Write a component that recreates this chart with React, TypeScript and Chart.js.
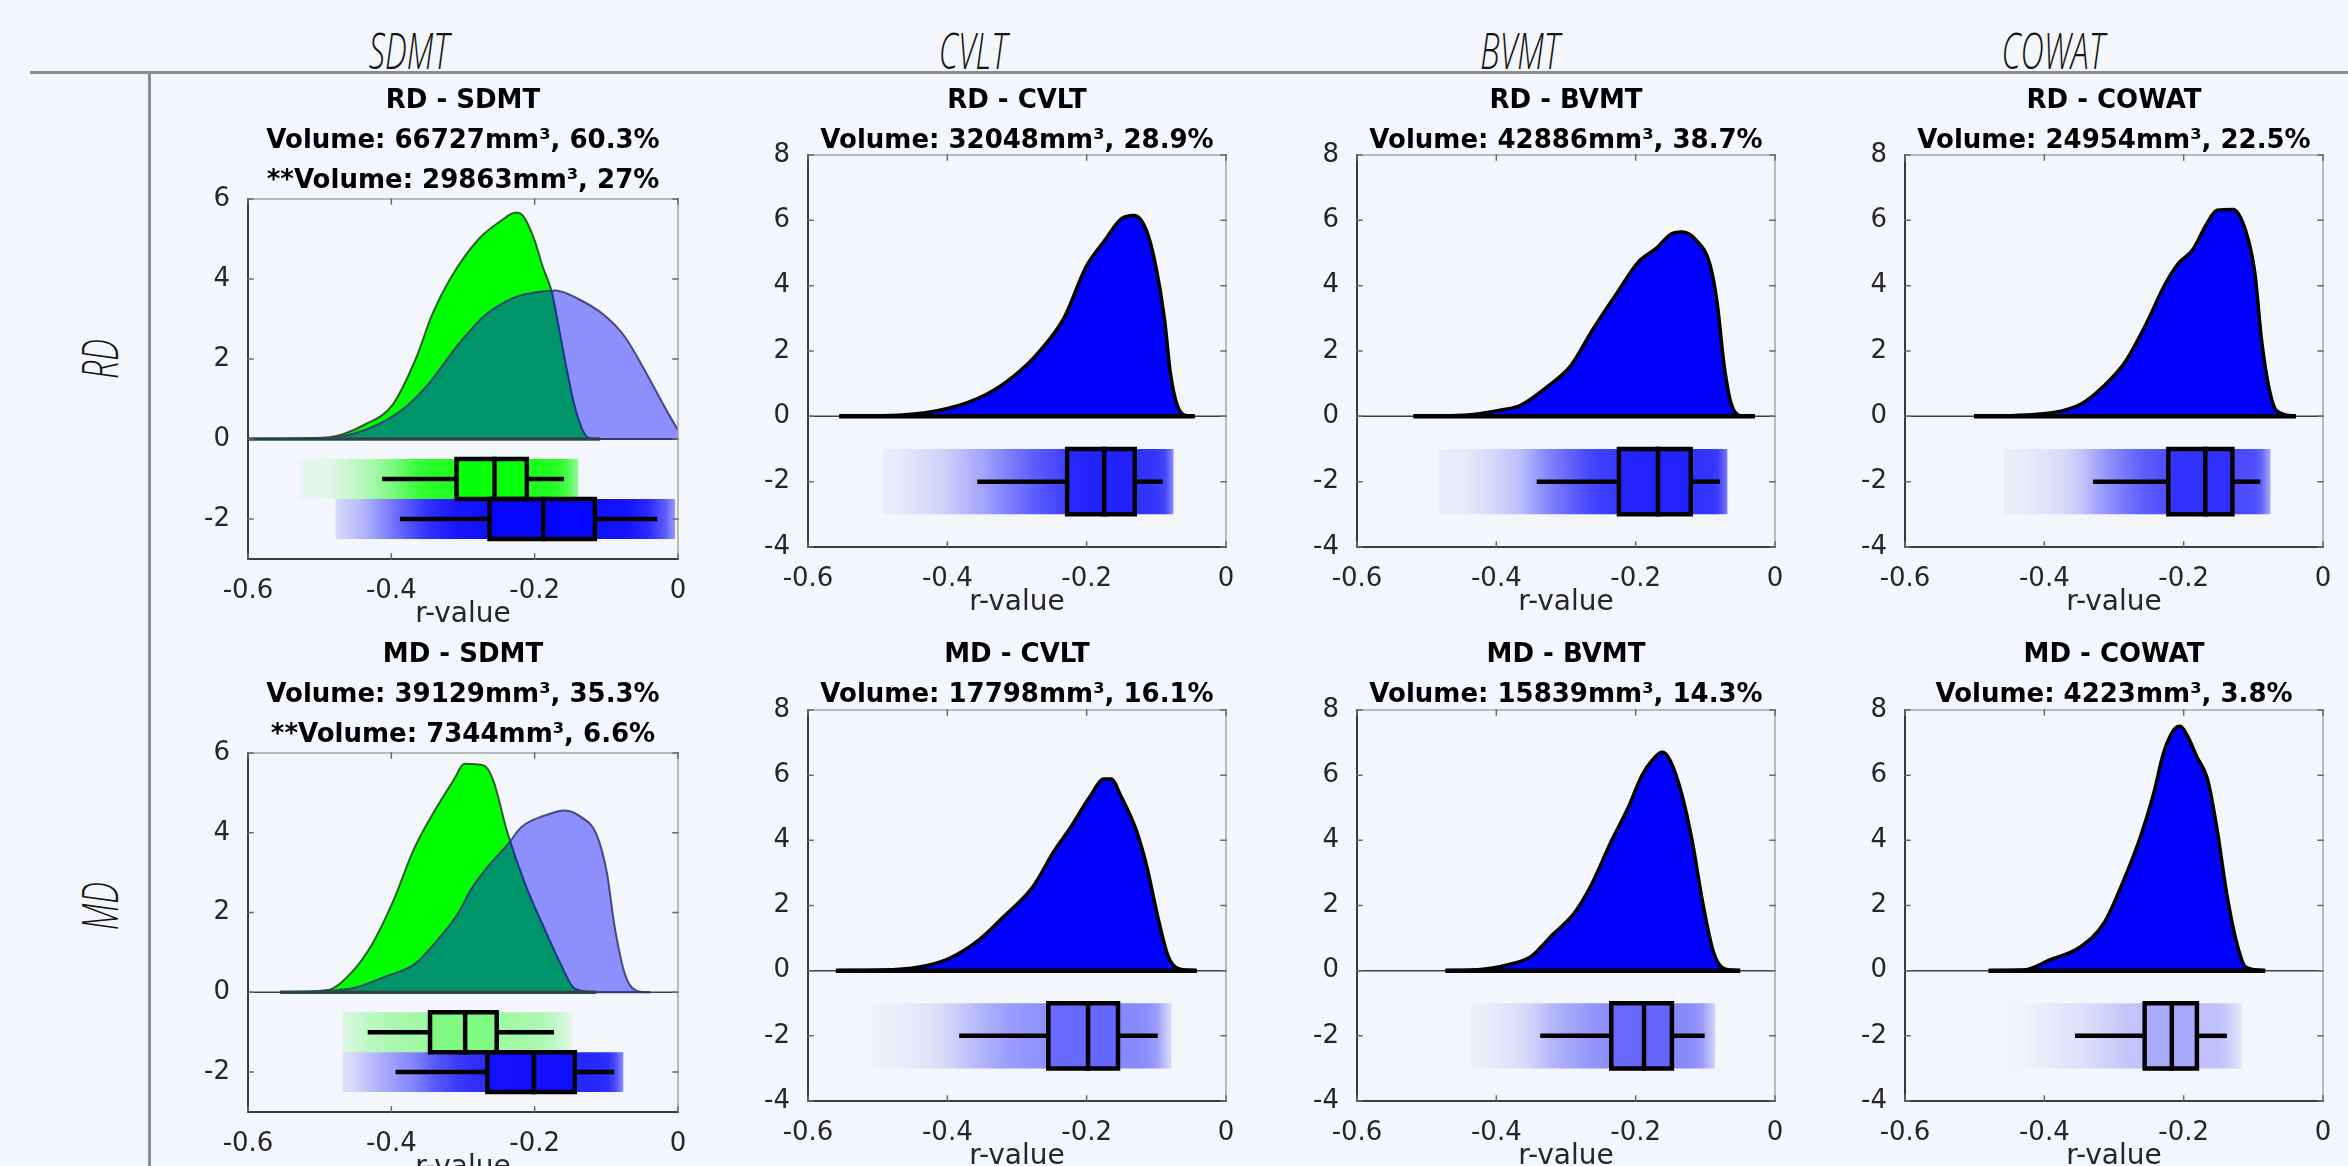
import React, { useEffect, useRef } from 'react';
import { Chart, registerables } from 'chart.js';

Chart.register(...registerables);

// ------------------------------------------------------------------ data
const columnHeaders = ['SDMT', 'CVLT', 'BVMT', 'COWAT'];
const rowHeaders = ['RD', 'MD'];

const xTickValues = [-0.6, -0.4, -0.2, 0];
const xTickLabels = ['-0.6', '-0.4', '-0.2', '0'];
const yTicksSdmt = [-2, 0, 2, 4, 6];
const yLabelsSdmt = ['-2', '0', '2', '4', '6'];
const yTicksOther = [-4, -2, 0, 2, 4, 6, 8];
const yLabelsOther = ['-4', '-2', '0', '2', '4', '6', '8'];
const xAxisTitle = 'r-value';

const rdSdmtTitle = ['RD - SDMT', 'Volume: 66727mm³, 60.3%', '**Volume: 29863mm³, 27%'];
const rdCvltTitle = ['RD - CVLT', 'Volume: 32048mm³, 28.9%'];
const rdBvmtTitle = ['RD - BVMT', 'Volume: 42886mm³, 38.7%'];
const rdCowatTitle = ['RD - COWAT', 'Volume: 24954mm³, 22.5%'];
const mdSdmtTitle = ['MD - SDMT', 'Volume: 39129mm³, 35.3%', '**Volume: 7344mm³, 6.6%'];
const mdCvltTitle = ['MD - CVLT', 'Volume: 17798mm³, 16.1%'];
const mdBvmtTitle = ['MD - BVMT', 'Volume: 15839mm³, 14.3%'];
const mdCowatTitle = ['MD - COWAT', 'Volume: 4223mm³, 3.8%'];

// density curves (r-value, density)
const rdSdmtGreenX = [-0.6, -0.488, -0.438, -0.398, -0.366, -0.343, -0.318, -0.278, -0.248, -0.226, -0.216, -0.201, -0.189, -0.176, -0.166, -0.156, -0.146, -0.136, -0.126, -0.109];
const rdSdmtGreenY = [0, 0.04, 0.35, 0.86, 2.0, 3.11, 4.0, 5.0, 5.44, 5.66, 5.57, 5.01, 4.32, 3.67, 2.76, 1.81, 0.95, 0.35, 0.04, 0];
const rdSdmtBlueX = [-0.6, -0.488, -0.438, -0.388, -0.348, -0.308, -0.268, -0.228, -0.198, -0.171, -0.139, -0.104, -0.074, -0.044, -0.018, 0];
const rdSdmtBlueY = [0, 0.03, 0.22, 0.69, 1.38, 2.33, 3.11, 3.54, 3.67, 3.71, 3.5, 3.11, 2.55, 1.64, 0.78, 0.22];

const mdSdmtGreenX = [-0.555, -0.488, -0.458, -0.428, -0.398, -0.368, -0.338, -0.313, -0.298, -0.271, -0.258, -0.238, -0.213, -0.189, -0.164, -0.144, -0.114];
const mdSdmtGreenY = [0, 0.06, 0.45, 1.17, 2.26, 3.61, 4.6, 5.32, 5.73, 5.69, 5.32, 4.0, 2.7, 1.7, 0.72, 0.09, 0];
const mdSdmtBlueX = [-0.555, -0.458, -0.408, -0.368, -0.338, -0.308, -0.288, -0.263, -0.238, -0.218, -0.188, -0.158, -0.134, -0.114, -0.099, -0.089, -0.074, -0.059, -0.039];
const mdSdmtBlueY = [0, 0.09, 0.4, 0.7, 1.26, 1.95, 2.6, 3.2, 3.7, 4.15, 4.42, 4.56, 4.38, 3.97, 2.98, 1.71, 0.45, 0.05, 0];

const rdCvltX = [-0.555, -0.47, -0.401, -0.345, -0.304, -0.268, -0.232, -0.201, -0.175, -0.15, -0.132, -0.114, -0.101, -0.088, -0.08, -0.07, -0.057, -0.045];
const rdCvltY = [0, 0.03, 0.23, 0.66, 1.24, 1.98, 3.03, 4.57, 5.36, 6.05, 6.15, 5.68, 4.62, 2.93, 1.34, 0.34, 0.02, 0];
const rdBvmtX = [-0.519, -0.447, -0.396, -0.365, -0.329, -0.293, -0.263, -0.227, -0.196, -0.17, -0.15, -0.134, -0.114, -0.093, -0.083, -0.073, -0.063, -0.05, -0.029];
const rdBvmtY = [0, 0.03, 0.18, 0.34, 0.87, 1.55, 2.61, 3.77, 4.73, 5.15, 5.57, 5.64, 5.41, 4.62, 3.46, 1.55, 0.39, 0.02, 0];
const rdCowatX = [-0.501, -0.427, -0.376, -0.346, -0.315, -0.284, -0.254, -0.228, -0.208, -0.187, -0.167, -0.152, -0.129, -0.111, -0.098, -0.088, -0.077, -0.067, -0.039];
const rdCowatY = [0, 0.04, 0.16, 0.39, 0.92, 1.66, 2.82, 3.99, 4.67, 5.1, 5.89, 6.31, 6.33, 5.68, 4.41, 2.29, 0.81, 0.18, 0];
const mdCvltX = [-0.56, -0.478, -0.427, -0.396, -0.355, -0.319, -0.278, -0.247, -0.222, -0.196, -0.175, -0.165, -0.15, -0.129, -0.114, -0.098, -0.083, -0.068, -0.042];
const mdCvltY = [0, 0.03, 0.17, 0.39, 0.94, 1.66, 2.55, 3.66, 4.43, 5.32, 5.88, 5.88, 5.32, 4.32, 3.22, 1.66, 0.44, 0.06, 0];
const mdBvmtX = [-0.473, -0.427, -0.386, -0.35, -0.319, -0.288, -0.263, -0.237, -0.211, -0.191, -0.175, -0.162, -0.15, -0.134, -0.119, -0.104, -0.088, -0.073, -0.05];
const mdBvmtY = [0, 0.03, 0.17, 0.44, 1.11, 1.77, 2.66, 3.88, 4.99, 5.99, 6.49, 6.71, 6.43, 5.43, 3.99, 2.11, 0.55, 0.06, 0];
const mdCowatX = [-0.48, -0.43, -0.392, -0.349, -0.315, -0.286, -0.262, -0.243, -0.229, -0.214, -0.205, -0.195, -0.181, -0.166, -0.152, -0.138, -0.123, -0.111, -0.083];
const mdCowatY = [0, 0.02, 0.33, 0.72, 1.44, 2.78, 4.11, 5.44, 6.67, 7.39, 7.5, 7.22, 6.56, 5.89, 4.33, 2.33, 0.78, 0.11, 0];

// box plots: [low whisker, Q1, median, Q3, high whisker]
const rdSdmtGreenBox = [-0.413, -0.309, -0.256, -0.211, -0.159];
const rdSdmtBlueBox = [-0.388, -0.263, -0.188, -0.116, -0.029];
const mdSdmtGreenBox = [-0.433, -0.346, -0.297, -0.253, -0.173];
const mdSdmtBlueBox = [-0.394, -0.266, -0.201, -0.144, -0.089];
const rdCvltBox = [-0.357, -0.228, -0.175, -0.131, -0.091];
const rdBvmtBox = [-0.342, -0.224, -0.168, -0.121, -0.079];
const rdCowatBox = [-0.33, -0.222, -0.169, -0.13, -0.09];
const mdCvltBox = [-0.383, -0.255, -0.198, -0.155, -0.098];
const mdBvmtBox = [-0.337, -0.235, -0.188, -0.148, -0.101];
const mdCowatBox = [-0.356, -0.256, -0.217, -0.181, -0.138];

// extent of the jittered raw-data clouds [min, max]
const rdSdmtGreenCloud = [-0.528, -0.139];
const rdSdmtBlueCloud = [-0.478, -0.004];
const mdSdmtGreenCloud = [-0.468, -0.148];
const mdSdmtBlueCloud = [-0.468, -0.076];
const rdCvltCloud = [-0.493, -0.075];
const rdBvmtCloud = [-0.483, -0.068];
const rdCowatCloud = [-0.458, -0.075];
const mdCvltCloud = [-0.509, -0.078];
const mdBvmtCloud = [-0.437, -0.086];
const mdCowatCloud = [-0.449, -0.116];

// ------------------------------------------------------------------ layout & style
const FONT = "'DejaVu Sans', 'Liberation Sans', sans-serif";
const W = 2348;
const H = 1166;
const BG = '#F3F6FA';
const COL_X = [[248, 678], [808, 1226], [1357, 1775], [1905, 2323]];
const ROW_Y_SDMT = [[199, 559], [753, 1112]];
const ROW_Y_OTHER = [[155, 547], [710, 1101]];
const TITLE_LINE1 = [101, 655];
const TITLE_LH = 40;
const Y_AXIS_W = 80;
const TICK_FONT = 26;
const LABEL_FONT = 28;
const X_AXIS_H = 73;
const PAD_R = 30;
const HEADER_X = [409, 973, 1520, 2053];
const HEADER_Y = 50;
const HEADER_SCALE = 0.66;
const ROW_LABEL_X = 99;
const ROW_LABEL_Y = [359, 906];

const RGB_BLUE = '0,0,255';
const RGB_GREEN = '0,255,0';

interface Series { xs: number[]; ys: number[]; fill: string; line: string; lineWidth: number; baseWidth: number; }
interface BoxSpec { stats: number[]; center: number; half: number; rgb: string; boxAlpha: number; cloud: number[]; cloudAlpha: number; dx: number[]; dy: number[]; }
interface PanelSpec { title: string[]; col: number; row: number; sdmt: boolean; series: Series[]; boxes: BoxSpec[]; }

const single = (xs: number[], ys: number[]): Series => ({ xs, ys, fill: '#0000ff', line: '#000000', lineWidth: 3.5, baseWidth: 4.5 });
const greenSeries = (xs: number[], ys: number[]): Series => ({ xs, ys, fill: '#00ff00', line: '#2a5f2a', lineWidth: 2, baseWidth: 3.5 });
const blueSeries = (xs: number[], ys: number[]): Series => ({ xs, ys, fill: 'rgba(0,0,255,0.42)', line: 'rgba(50,50,110,0.85)', lineWidth: 2, baseWidth: 2 });
const singleBox = (stats: number[], cloud: number[], dx: number[], dy: number[], cloudAlpha: number, boxAlpha: number): BoxSpec => ({ stats, center: -2, half: 1, rgb: RGB_BLUE, boxAlpha, cloud, cloudAlpha, dx, dy });

const panels: PanelSpec[] = [
  {
    title: rdSdmtTitle, col: 0, row: 0, sdmt: true,
    series: [greenSeries(rdSdmtGreenX, rdSdmtGreenY), blueSeries(rdSdmtBlueX, rdSdmtBlueY)],
    boxes: [
      { stats: rdSdmtGreenBox, center: -1, half: 0.5, rgb: RGB_GREEN, boxAlpha: 0.75, cloud: rdSdmtGreenCloud, cloudAlpha: 0.9, dx: rdSdmtGreenX, dy: rdSdmtGreenY },
      { stats: rdSdmtBlueBox, center: -2, half: 0.5, rgb: RGB_BLUE, boxAlpha: 0.75, cloud: rdSdmtBlueCloud, cloudAlpha: 0.95, dx: rdSdmtBlueX, dy: rdSdmtBlueY },
    ],
  },
  { title: rdCvltTitle, col: 1, row: 0, sdmt: false, series: [single(rdCvltX, rdCvltY)], boxes: [singleBox(rdCvltBox, rdCvltCloud, rdCvltX, rdCvltY, 0.8, 0.35)] },
  { title: rdBvmtTitle, col: 2, row: 0, sdmt: false, series: [single(rdBvmtX, rdBvmtY)], boxes: [singleBox(rdBvmtBox, rdBvmtCloud, rdBvmtX, rdBvmtY, 0.8, 0.35)] },
  { title: rdCowatTitle, col: 3, row: 0, sdmt: false, series: [single(rdCowatX, rdCowatY)], boxes: [singleBox(rdCowatBox, rdCowatCloud, rdCowatX, rdCowatY, 0.7, 0.35)] },
  {
    title: mdSdmtTitle, col: 0, row: 1, sdmt: true,
    series: [greenSeries(mdSdmtGreenX, mdSdmtGreenY), blueSeries(mdSdmtBlueX, mdSdmtBlueY)],
    boxes: [
      { stats: mdSdmtGreenBox, center: -1, half: 0.5, rgb: RGB_GREEN, boxAlpha: 0.2, cloud: mdSdmtGreenCloud, cloudAlpha: 0.35, dx: mdSdmtGreenX, dy: mdSdmtGreenY },
      { stats: mdSdmtBlueBox, center: -2, half: 0.5, rgb: RGB_BLUE, boxAlpha: 0.6, cloud: mdSdmtBlueCloud, cloudAlpha: 0.85, dx: mdSdmtBlueX, dy: mdSdmtBlueY },
    ],
  },
  { title: mdCvltTitle, col: 1, row: 1, sdmt: false, series: [single(mdCvltX, mdCvltY)], boxes: [singleBox(mdCvltBox, mdCvltCloud, mdCvltX, mdCvltY, 0.45, 0.25)] },
  { title: mdBvmtTitle, col: 2, row: 1, sdmt: false, series: [single(mdBvmtX, mdBvmtY)], boxes: [singleBox(mdBvmtBox, mdBvmtCloud, mdBvmtX, mdBvmtY, 0.45, 0.25)] },
  { title: mdCowatTitle, col: 3, row: 1, sdmt: false, series: [single(mdCowatX, mdCowatY)], boxes: [singleBox(mdCowatBox, mdCowatCloud, mdCowatX, mdCowatY, 0.22, 0.12)] },
];

// ------------------------------------------------------------------ helpers
function lerpDensity(xs: number[], ys: number[], x: number): number {
  if (x <= xs[0]) return ys[0];
  for (let i = 1; i < xs.length; i++) {
    if (x <= xs[i]) {
      const t = (x - xs[i - 1]) / (xs[i] - xs[i - 1]);
      return ys[i - 1] + t * (ys[i] - ys[i - 1]);
    }
  }
  return ys[ys.length - 1];
}

function cloudGradient(chart: any, b: BoxSpec): any {
  const sx = chart.scales && chart.scales.x;
  if (!chart.chartArea || !sx) return `rgba(${b.rgb},${b.cloudAlpha * 0.5})`;
  const [c0, c1] = b.cloud;
  const p0 = sx.getPixelForValue(c0);
  const p1 = sx.getPixelForValue(c1);
  const g = chart.ctx.createLinearGradient(p0, 0, p1, 0);
  const dmax = Math.max(...b.dy);
  const stops = [c0, ...b.dx.filter((x) => x > c0 && x < c1), c1];
  stops.forEach((x) => {
    const d = Math.max(0, lerpDensity(b.dx, b.dy, x));
    const a = b.cloudAlpha * (0.03 + 0.97 * (1 - Math.exp((-5 * d) / dmax)));
    g.addColorStop(Math.min(1, Math.max(0, (x - c0) / (c1 - c0))), `rgba(${b.rgb},${a.toFixed(3)})`);
  });
  return g;
}

const labelFor = (values: number[], labels: string[], v: number) => {
  const i = values.findIndex((t) => Math.abs(t - v) < 1e-9);
  return i >= 0 ? labels[i] : '';
};

const framePlugin = {
  id: 'matlabFrame',
  afterDatasetsDraw(chart: any) {
    const { ctx, chartArea } = chart;
    const { left, right, top, bottom } = chartArea;
    const sx = chart.scales.x;
    const sy = chart.scales.y;
    ctx.save();
    ctx.lineCap = 'square';
    ctx.strokeStyle = '#a6a6a6';
    ctx.lineWidth = 1.5;
    ctx.beginPath();
    ctx.moveTo(left, top);
    ctx.lineTo(right, top);
    ctx.lineTo(right, bottom);
    ctx.stroke();
    ctx.strokeStyle = '#3a3a3a';
    ctx.lineWidth = 2;
    ctx.beginPath();
    ctx.moveTo(left, top);
    ctx.lineTo(left, bottom);
    ctx.lineTo(right, bottom);
    ctx.stroke();
    ctx.strokeStyle = '#6a6a6a';
    ctx.lineWidth = 1.5;
    const tl = 5;
    sx.ticks.forEach((t: any) => {
      const px = sx.getPixelForValue(t.value);
      ctx.beginPath();
      ctx.moveTo(px, bottom);
      ctx.lineTo(px, bottom - tl);
      ctx.moveTo(px, top);
      ctx.lineTo(px, top + tl);
      ctx.stroke();
    });
    sy.ticks.forEach((t: any) => {
      const py = sy.getPixelForValue(t.value);
      ctx.beginPath();
      ctx.moveTo(left, py);
      ctx.lineTo(left + tl, py);
      ctx.moveTo(right, py);
      ctx.lineTo(right - tl, py);
      ctx.stroke();
    });
    ctx.restore();
  },
};

function geometry(spec: PanelSpec) {
  const [axL, axR] = COL_X[spec.col];
  const [axT, axB] = spec.sdmt ? ROW_Y_SDMT[spec.row] : ROW_Y_OTHER[spec.row];
  const line1 = TITLE_LINE1[spec.row];
  const top = line1 - TITLE_LH / 2;
  const left = axL - Y_AXIS_W;
  const width = Y_AXIS_W + (axR - axL) + PAD_R;
  const height = axB + X_AXIS_H - top;
  const padBottom = axT - top - spec.title.length * TITLE_LH;
  return { left, top, width, height, padBottom };
}

function buildConfig(spec: PanelSpec, padBottom: number): any {
  const datasets: any[] = [];
  const pts = (xs: number[], ys: number[]) => xs.map((x, i) => ({ x, y: ys[i] }));
  const clear = 'rgba(0,0,0,0)';

  datasets.push({
    data: [{ x: xTickValues[0], y: 0 }, { x: xTickValues[xTickValues.length - 1], y: 0 }],
    borderColor: '#404040', borderWidth: 1.5, pointRadius: 0, fill: false, order: 70,
  });

  spec.series.forEach((s, i) => {
    datasets.push({
      data: pts(s.xs, s.ys), borderColor: s.line, borderWidth: s.lineWidth, backgroundColor: s.fill,
      fill: 'origin', pointRadius: 0, cubicInterpolationMode: 'monotone', order: 60 - i * 5,
    });
    datasets.push({
      data: [{ x: s.xs[0], y: 0 }, { x: s.xs[s.xs.length - 1], y: 0 }],
      borderColor: s.line, borderWidth: s.baseWidth, pointRadius: 0, fill: false, order: 40 - i,
    });
  });

  spec.boxes.forEach((b, i) => {
    const lo = b.center - b.half;
    const hi = b.center + b.half;
    const [w0, q1, med, q3, w1] = b.stats;
    datasets.push({
      data: [{ x: b.cloud[0], y: lo }, { x: b.cloud[1], y: lo }],
      borderColor: clear, borderWidth: 0, pointRadius: 0, fill: { value: hi },
      backgroundColor: (ctx: any) => cloudGradient(ctx.chart, b), order: 110 - i,
    });
    datasets.push({
      data: [{ x: q1, y: lo }, { x: q3, y: lo }],
      borderColor: clear, borderWidth: 0, pointRadius: 0, fill: { value: hi },
      backgroundColor: `rgba(${b.rgb},${b.boxAlpha})`, order: 95 - i,
    });
    const k = { borderColor: '#000000', borderWidth: 4.5, pointRadius: 0, fill: false, order: 85 - i, borderJoinStyle: 'miter', borderCapStyle: 'square' };
    datasets.push({ ...k, data: [{ x: q1, y: hi }, { x: q3, y: hi }, { x: q3, y: lo }, { x: q1, y: lo }, { x: q1, y: hi }] });
    datasets.push({ ...k, data: [{ x: med, y: hi }, { x: med, y: lo }] });
    datasets.push({ ...k, borderCapStyle: 'butt', data: [{ x: w0, y: b.center }, { x: q1, y: b.center }] });
    datasets.push({ ...k, borderCapStyle: 'butt', data: [{ x: q3, y: b.center }, { x: w1, y: b.center }] });
  });

  const yTicks = spec.sdmt ? yTicksSdmt : yTicksOther;
  const yLabels = spec.sdmt ? yLabelsSdmt : yLabelsOther;

  return {
    type: 'line',
    data: { datasets },
    options: {
      animation: false,
      responsive: false,
      maintainAspectRatio: false,
      events: [],
      layout: { padding: { top: 0, right: PAD_R, bottom: 0, left: 0 } },
      plugins: {
        legend: { display: false },
        tooltip: { enabled: false },
        title: {
          display: true, text: spec.title, color: '#000000', fullSize: false, align: 'center', position: 'top',
          font: { family: FONT, size: 26, weight: 'bold', lineHeight: TITLE_LH / 26 },
          padding: { top: 0, bottom: padBottom },
        },
      },
      scales: {
        x: {
          type: 'linear', min: xTickValues[0], max: xTickValues[xTickValues.length - 1],
          grid: { display: false }, border: { display: false },
          afterBuildTicks: (s: any) => { s.ticks = xTickValues.map((v) => ({ value: v })); },
          afterFit: (s: any) => { s.height = X_AXIS_H; },
          ticks: {
            autoSkip: false, maxRotation: 0, minRotation: 0, padding: 9, color: '#262626',
            font: { family: FONT, size: TICK_FONT },
            callback: (v: number) => labelFor(xTickValues, xTickLabels, v),
          },
          title: { display: true, text: xAxisTitle, color: '#262626', font: { family: FONT, size: LABEL_FONT }, padding: { top: 0, bottom: 0 } },
        },
        y: {
          type: 'linear', min: spec.sdmt ? -3 : -4, max: spec.sdmt ? 6 : 8,
          grid: { display: false }, border: { display: false },
          afterBuildTicks: (s: any) => { s.ticks = yTicks.map((v) => ({ value: v })); },
          afterFit: (s: any) => { s.width = Y_AXIS_W; },
          ticks: {
            autoSkip: false, padding: 10, color: '#262626',
            font: { family: FONT, size: TICK_FONT },
            callback: (v: number) => labelFor(yTicks, yLabels, v),
          },
        },
      },
    },
    plugins: [framePlugin],
  };
}

function Panel({ spec }: { spec: PanelSpec }) {
  const ref = useRef<HTMLCanvasElement>(null);
  const g = geometry(spec);
  useEffect(() => {
    if (!ref.current) return;
    const chart = new Chart(ref.current, buildConfig(spec, g.padBottom));
    return () => chart.destroy();
  }, []);
  return (
    <canvas
      ref={ref}
      width={g.width}
      height={g.height}
      style={{ position: 'absolute', left: g.left, top: g.top, width: g.width, height: g.height, display: 'block' }}
    />
  );
}

const headerFont: React.CSSProperties = {
  position: 'absolute',
  fontFamily: "'Open Sans', 'DejaVu Sans', sans-serif",
  fontStyle: 'italic',
  fontWeight: 300,
  fontSize: 49,
  lineHeight: 1,
  color: '#141414',
  whiteSpace: 'nowrap',
};

export default function App() {
  Chart.defaults.font.family = FONT;
  return (
    <div style={{ position: 'absolute', left: 0, top: 0, width: W, height: H, background: BG, overflow: 'hidden' }}>
      {columnHeaders.map((t, i) => (
        <div key={t} style={{ ...headerFont, left: HEADER_X[i], top: HEADER_Y, transform: `translate(-50%, -50%) scaleX(${HEADER_SCALE})` }}>{t}</div>
      ))}
      {rowHeaders.map((t, i) => (
        <div key={t} style={{ ...headerFont, left: ROW_LABEL_X, top: ROW_LABEL_Y[i], transform: `translate(-50%, -50%) rotate(-90deg) scaleX(${HEADER_SCALE})` }}>{t}</div>
      ))}
      <div style={{ position: 'absolute', left: 30, top: 71, width: W - 30, height: 3, background: '#8e8e8e' }} />
      <div style={{ position: 'absolute', left: 148, top: 72, width: 3, height: H - 72, background: '#8e8e8e' }} />
      {panels.map((p) => (
        <Panel key={p.title[0]} spec={p} />
      ))}
    </div>
  );
}
